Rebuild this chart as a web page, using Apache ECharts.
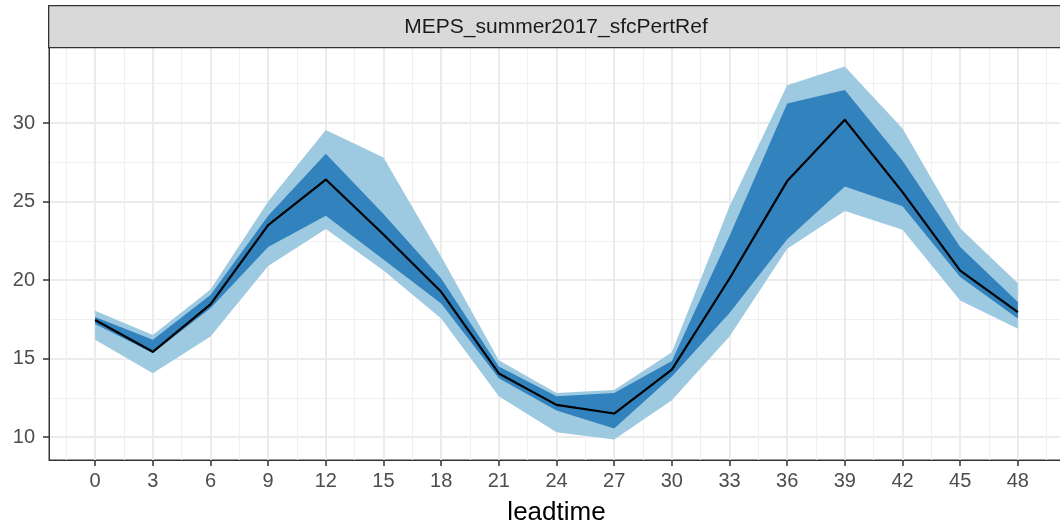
<!DOCTYPE html>
<html>
<head>
<meta charset="utf-8">
<script src="https://cdn.jsdelivr.net/npm/echarts@6/dist/echarts.min.js"></script>
<style>
html,body{margin:0;padding:0;background:#fff;}
#chart{width:1060px;height:525px;}
</style>
</head>
<body>
<div id="chart"></div>
<script>
// ---- data ----
var leadtime = [0, 3, 6, 9, 12, 15, 18, 21, 24, 27, 30, 33, 36, 39, 42, 45, 48];
var median   = [17.45, 15.43, 18.45, 23.5, 26.4, 22.9, 19.25, 14.05, 12.05, 11.5, 14.3, 20.1, 26.3, 30.2, 25.6, 20.6, 17.95];
var innerLow = [17.2, 15.35, 18.2, 22.1, 24.1, 21.3, 18.5, 13.75, 11.7, 10.55, 13.85, 17.9, 22.6, 25.95, 24.7, 20.2, 17.55];
var innerHigh= [17.65, 16.2, 19.05, 24.1, 28.05, 24.2, 20.1, 14.5, 12.6, 12.8, 14.85, 22.8, 31.25, 32.1, 27.6, 22.1, 18.6];
var outerLow = [16.2, 14.07, 16.4, 20.9, 23.25, 20.6, 17.55, 12.6, 10.3, 9.85, 12.35, 16.4, 22.0, 24.4, 23.2, 18.7, 16.9];
var outerHigh= [18.05, 16.5, 19.4, 25.0, 29.55, 27.8, 21.5, 14.9, 12.8, 13.0, 15.4, 24.7, 32.4, 33.6, 29.65, 23.3, 19.8];

var xMajorTicks = [0, 3, 6, 9, 12, 15, 18, 21, 24, 27, 30, 33, 36, 39, 42, 45, 48];
var xMinorTicks = [-1.5, 1.5, 4.5, 7.5, 10.5, 13.5, 16.5, 19.5, 22.5, 25.5, 28.5, 31.5, 34.5, 37.5, 40.5, 43.5, 46.5, 49.5];
var yMajorTicks = [10, 15, 20, 25, 30];
var yMinorTicks = [12.5, 17.5, 22.5, 27.5, 32.5];
var facetTitle = 'MEPS_summer2017_sfcPertRef';
var xTitle = 'leadtime';

// ---- build ----
function pairs(vals) { return leadtime.map(function (x, i) { return [x, vals[i]]; }); }

var LIGHT = '#9ecae1', DARK = '#3182bd';
var FONT = 'Liberation Sans, Arial, sans-serif';

var chart = echarts.init(document.getElementById('chart'), null, {renderer: 'canvas'});

var xMin = -2.4, xMax = 50.4, yMin = 8.54, yMax = 34.84;

function ribbon(name, low, high, color, z) {
  return {
    name: name, type: 'custom', silent: true, clip: true, z: z,
    data: [0],
    renderItem: function (params, api) {
      var pts = [], i;
      for (i = 0; i < leadtime.length; i++) pts.push(api.coord([leadtime[i], high[i]]));
      for (i = leadtime.length - 1; i >= 0; i--) pts.push(api.coord([leadtime[i], low[i]]));
      return {type: 'polygon', shape: {points: pts}, style: {fill: color, stroke: null}};
    }
  };
}

var option = {
  animation: false,
  backgroundColor: '#ffffff',
  grid: {
    left: 49, top: 47, right: -4, bottom: 65, containLabel: false, outerBoundsMode: 'none',
    show: true, borderColor: '#333333', borderWidth: 1, backgroundColor: '#ffffff'
  },
  xAxis: [
    {
      type: 'value', min: xMin, max: xMax,
      name: xTitle, nameLocation: 'middle', nameGap: 40,
      nameTextStyle: {fontSize: 26, color: '#000000', fontFamily: FONT},
      axisLine: {show: true, onZero: false, lineStyle: {color: '#333333', width: 1}},
      axisTick: {show: true, length: 6, customValues: xMajorTicks, lineStyle: {color: '#333333', width: 1.5}},
      axisLabel: {show: true, customValues: xMajorTicks, margin: 11, fontSize: 20, color: '#4d4d4d', fontFamily: FONT},
      splitLine: {show: true, lineStyle: {color: '#ebebeb', width: 2}}
    },
    {
      type: 'value', min: xMin, max: xMax, position: 'bottom',
      axisLine: {show: false}, axisLabel: {show: false},
      axisTick: {show: false, customValues: xMinorTicks},
      splitLine: {show: true, lineStyle: {color: '#f0f0f0', width: 1.2}}
    }
  ],
  yAxis: [
    {
      type: 'value', min: yMin, max: yMax,
      axisLine: {show: true, onZero: false, lineStyle: {color: '#333333', width: 1}},
      axisTick: {show: true, length: 6, customValues: yMajorTicks, lineStyle: {color: '#333333', width: 1.5}},
      axisLabel: {show: true, customValues: yMajorTicks, margin: 14, fontSize: 20, color: '#4d4d4d', fontFamily: FONT},
      splitLine: {show: true, lineStyle: {color: '#ebebeb', width: 2}}
    },
    {
      type: 'value', min: yMin, max: yMax, position: 'left',
      axisLine: {show: false}, axisLabel: {show: false},
      axisTick: {show: false, customValues: yMinorTicks},
      splitLine: {show: true, lineStyle: {color: '#f0f0f0', width: 1.2}}
    }
  ],
  series: [
    ribbon('outer', outerLow, outerHigh, LIGHT, 2),
    ribbon('inner', innerLow, innerHigh, DARK, 3),
    {
      name: 'median', type: 'line', data: pairs(median), symbol: 'none', silent: true,
      lineStyle: {color: '#000000', width: 2.2, join: 'round'}, z: 4
    }
  ],
  graphic: [
    {
      type: 'rect', left: 48, top: 5, silent: true,
      shape: {x: 0, y: 0, width: 1030, height: 42},
      style: {fill: '#d9d9d9', stroke: '#333333', lineWidth: 1.3},
      z: 10
    },
    {
      type: 'text', x: 556, y: 27, silent: true,
      style: {text: facetTitle, font: '21px ' + FONT, fill: '#1a1a1a', align: 'center', verticalAlign: 'middle'},
      z: 11
    }
  ]
};
chart.setOption(option);
</script>
</body>
</html>
